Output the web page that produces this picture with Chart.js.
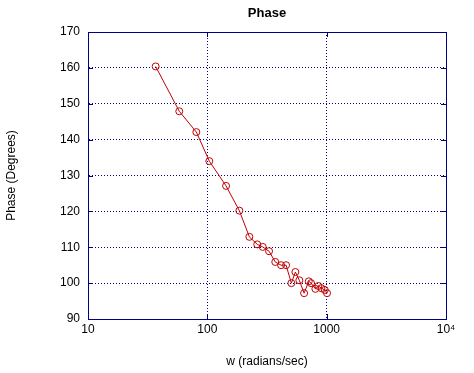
<!DOCTYPE html>
<html>
<head>
<meta charset="utf-8">
<script src="https://cdn.jsdelivr.net/npm/chart.js@4"></script>
<style>
  html, body { margin: 0; padding: 0; background: #fff; }
  #phaseChart { display: block; }
</style>
</head>
<body>
<canvas id="phaseChart" width="474" height="373"></canvas>
<script>
// ========================================
// DATA
// ========================================
const omega = [36.9, 58.2, 80.9, 103.9, 143.5, 185.5, 225, 262, 291, 329, 371, 415, 457, 506, 547, 590, 647, 708, 740, 804, 852, 903, 964, 1007];
const phaseDeg = [160.4, 147.9, 142.1, 134.0, 127.1, 120.2, 112.9, 110.8, 110.1, 108.9, 105.9, 105.0, 105.0, 100.0, 103.1, 100.8, 97.2, 100.5, 100.0, 98.4, 99.2, 98.6, 98.1, 97.2];
const xTicks = [10, 100, 1000, 10000];
const xTickLabels = ["10", "100", "1000", "10\u2074"];

const navy = "#000080";
const lineRed = "#c00000";
const fontFamily = "'Liberation Sans', Arial, sans-serif";

const points = omega.map((w, i) => ({ x: w, y: phaseDeg[i] }));

// ========================================
// FRAME + INWARD TICKS + TITLE
// ========================================
const framePlugin = {
  id: "frame",
  afterDraw(chart) {
    const { ctx, chartArea: a, scales } = chart;
    ctx.save();
    ctx.strokeStyle = navy;
    ctx.lineWidth = 1;
    ctx.setLineDash([]);
    ctx.strokeRect(a.left + 0.5, a.top + 0.5, a.right - a.left, a.bottom - a.top);

    // short inward ticks on all four sides
    const len = 5;
    ctx.beginPath();
    scales.x.ticks.forEach((t) => {
      const px = Math.round(scales.x.getPixelForValue(t.value)) + 0.5;
      ctx.moveTo(px, a.bottom);
      ctx.lineTo(px, a.bottom - len);
      ctx.moveTo(px, a.top);
      ctx.lineTo(px, a.top + len);
    });
    scales.y.ticks.forEach((t) => {
      const py = Math.round(scales.y.getPixelForValue(t.value)) + 0.5;
      ctx.moveTo(a.left, py);
      ctx.lineTo(a.left + len, py);
      ctx.moveTo(a.right, py);
      ctx.lineTo(a.right - len, py);
    });
    ctx.stroke();

    // title centred over the plot area
    ctx.fillStyle = "#000";
    ctx.font = "bold 13px " + fontFamily;
    ctx.textAlign = "center";
    ctx.textBaseline = "middle";
    ctx.fillText("Phase", (a.left + a.right) / 2, 13);
    ctx.restore();
  },
};

// ========================================
// CHART
// ========================================
new Chart(document.getElementById("phaseChart"), {
  type: "scatter",
  data: {
    datasets: [
      {
        data: points,
        showLine: true,
        borderColor: lineRed,
        borderWidth: 1,
        backgroundColor: "rgba(0,0,0,0)",
        pointStyle: "circle",
        pointRadius: 3.5,
        pointBorderColor: lineRed,
        pointBorderWidth: 1,
        pointBackgroundColor: "rgba(0,0,0,0)",
        tension: 0,
      },
    ],
  },
  options: {
    responsive: false,
    animation: false,
    layout: { padding: { left: 0, right: 28, top: 32, bottom: 0 } },
    plugins: {
      legend: { display: false },
      tooltip: { enabled: false },
      title: { display: false },
    },
    scales: {
      x: {
        type: "logarithmic",
        min: 10,
        max: 10000,
        afterBuildTicks: (scale) => {
          scale.ticks = xTicks.map((v) => ({ value: v }));
        },
        afterFit: (scale) => {
          scale.height = 54;
        },
        ticks: {
          color: "#000",
          font: { family: fontFamily, size: 12 },
          padding: 3,
          maxRotation: 0,
          autoSkip: false,
          callback: (value) => xTickLabels[xTicks.indexOf(value)] ?? "",
        },
        grid: {
          color: navy,
          lineWidth: 1,
          drawTicks: false,
        },
        border: { display: true, color: navy, dash: [1, 2] },
        title: {
          display: true,
          text: "w (radians/sec)",
          color: "#000",
          font: { family: fontFamily, size: 12 },
          padding: { top: 14 },
        },
      },
      y: {
        min: 90,
        max: 170,
        afterFit: (scale) => {
          scale.width = 88;
        },
        ticks: {
          stepSize: 10,
          color: "#000",
          font: { family: fontFamily, size: 12 },
          padding: 8,
        },
        grid: {
          color: navy,
          lineWidth: 1,
          drawTicks: false,
        },
        border: { display: true, color: navy, dash: [1, 2] },
        title: {
          display: true,
          text: "Phase (Degrees)",
          color: "#000",
          font: { family: fontFamily, size: 12 },
          padding: { top: 4, bottom: 0 },
        },
      },
    },
  },
  plugins: [framePlugin],
});
</script>
</body>
</html>
